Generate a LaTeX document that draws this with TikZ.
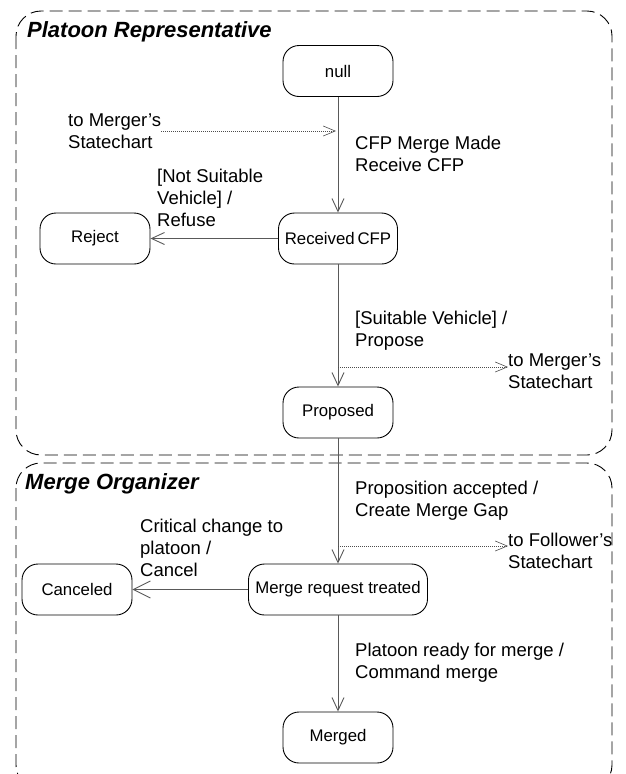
\documentclass[tikz,border=0pt]{standalone}
\usepackage{fontspec}
\setmainfont{Liberation Sans}
\usetikzlibrary{arrows.meta}

\begin{document}
\begin{tikzpicture}[x=1pt, y=-1pt,
  state/.style = {draw, rounded corners=16pt, minimum width=110pt,
    minimum height=51pt, inner sep=0pt, line width=0.9pt,
    font=\fontsize{16.8}{19}\selectfont},
  region/.style = {draw, dash pattern=on 13pt off 6pt,
    rounded corners=25pt, line width=0.9pt},
  trans/.style = {draw=black!65, line width=0.9pt,
    -{Straight Barb[length=13pt, width=12pt]}},
  signal/.style = {draw=black!70, line width=0.6pt,
    dash pattern=on 1.2pt off 0.8pt,
    -{Straight Barb[length=12pt, width=10pt, line width=0.6pt]}},
  guard/.style = {anchor=west, align=left, inner sep=0pt,
    font=\fontsize{18.5}{21.7}\selectfont},
  title/.style = {anchor=base west, inner sep=0pt,
    font=\fontsize{22}{25}\selectfont\bfseries\itshape}]
  \useasboundingbox (0,0) rectangle (625,774);
  \clip (0,0) rectangle (625,774);

  % the two composite states
  \draw[region] (16,11) rectangle (612,455);
  \draw[region] (16,463) rectangle (612,790);
  \node[title] (rep) at (27,37) {Platoon Representative};
  \node[title] (org) at (25,489) {Merge Organizer};

  % states
  \node[state] (null) at (338,71) {null};
  \node[state, minimum width=119pt] (rcvd) at (338,238.5) {Received\,CFP};
  \node[state] (reject) at (95,238.5) {Reject};
  \node[state] (proposed) at (338,412.5) {Proposed};
  \node[state, minimum width=179pt] (treated) at (338,589.5) {Merge request treated};
  \node[state] (canceled) at (77,589.5) {Canceled};
  \node[state] (merged) at (338,737.5) {Merged};

  % transitions
  \draw[trans] (null) -- (rcvd);
  \draw[trans] (rcvd) -- (reject);
  \draw[trans] (rcvd) -- (proposed);
  \draw[trans] (proposed) -- (treated);
  \draw[trans, -{Straight Barb[length=17pt, width=17pt]}] (treated) -- (canceled);
  \draw[trans] (treated) -- (merged);

  % guards / actions
  \node[guard] (g1) at (355,154) {CFP Merge Made\\Receive CFP};
  \node[guard] (g2) at (157,198) {[Not Suitable\\Vehicle] /\\Refuse};
  \node[guard] (g3) at (355,331) {[Suitable Vehicle] /\\Propose};
  \node[guard] (g4) at (355,501) {Proposition accepted /\\Create Merge Gap};
  \node[guard] (g5) at (140,548) {Critical change to\\platoon /\\Cancel};
  \node[guard] (g6) at (355,663) {Platoon ready for merge /\\Command merge};

  % signals to the other statecharts
  \node[guard] (sig1) at (68,131) {to Merger's\\Statechart};
  \coordinate (s1) at (336,131);
  \draw[signal] (sig1.east) -- (sig1.east -| s1);

  \coordinate (s2) at (338,367);
  \node[guard] (sig2) at (508,371) {to Merger's\\Statechart};
  \draw[signal] (s2) -- (s2 -| sig2.west);

  \coordinate (s3) at (338,546);
  \node[guard] (sig3) at (508,551) {to Follower's\\Statechart};
  \draw[signal] (s3) -- (s3 -| sig3.west);
\end{tikzpicture}
\end{document}
